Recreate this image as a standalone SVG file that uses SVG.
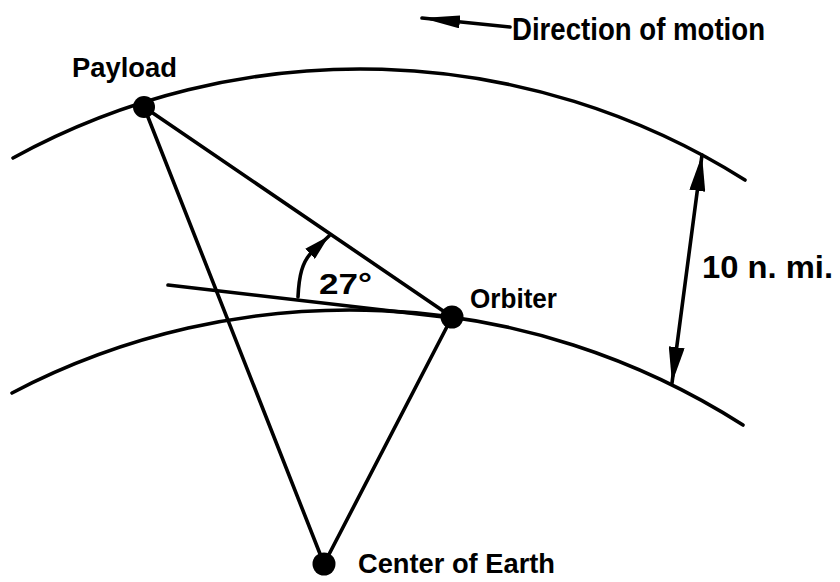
<svg xmlns="http://www.w3.org/2000/svg" width="840" height="582" viewBox="0 0 840 582">
<style>
.ln{fill:none;stroke:#000;stroke-width:3.6;stroke-linecap:round}
.dot{fill:#000}
.lbl{font-family:"Liberation Sans","DejaVu Sans",sans-serif;font-weight:bold;fill:#000}
</style>
<defs>
<marker id="headL" viewBox="0 0 36 16" markerWidth="36" markerHeight="16" refX="36" refY="8" orient="auto-start-reverse" markerUnits="userSpaceOnUse">
<path d="M0,0 L36,8 L0,16 z" fill="#000"/>
</marker>
<marker id="headS" viewBox="0 0 26 14" markerWidth="26" markerHeight="14" refX="26" refY="7" orient="auto" markerUnits="userSpaceOnUse">
<path d="M0,0 L26,7 L0,14 z" fill="#000"/>
</marker>
<marker id="headD" viewBox="0 0 38 13" markerWidth="38" markerHeight="13" refX="38" refY="6.5" orient="auto" markerUnits="userSpaceOnUse">
<path d="M0,0 L38,6.5 L0,13 z" fill="#000"/>
</marker>
</defs>
<g id="orbits">
<path id="outer-orbit" class="ln" d="M13,158 A722,722 0 0 1 745,180"/>
<path id="inner-orbit" class="ln" d="M12,393 A729,729 0 0 1 743,425"/>
</g>
<g id="connectors">
<line class="ln" x1="144" y1="107" x2="324" y2="564"/>
<line class="ln" x1="144" y1="107" x2="452" y2="317"/>
<line class="ln" x1="452" y1="317" x2="324" y2="564"/>
<line class="ln" x1="168" y1="285" x2="452" y2="318" stroke-width="4"/>
<path class="ln" d="M298,297 C299,276 302,262 312,252 L329,236" marker-end="url(#headS)"/>
<line class="ln" x1="702" y1="155" x2="672" y2="383" marker-start="url(#headL)" marker-end="url(#headL)"/>
<line class="ln" x1="510" y1="27" x2="422" y2="18" stroke-width="4" marker-end="url(#headD)"/>
</g>
<g id="payload">
<circle class="dot" cx="144" cy="107" r="11"/>
<text class="lbl" x="72" y="77" font-size="27" textLength="105" lengthAdjust="spacingAndGlyphs">Payload</text>
</g>
<g id="orbiter">
<circle class="dot" cx="452" cy="317" r="11.5"/>
<text class="lbl" x="470" y="308" font-size="28" textLength="87" lengthAdjust="spacingAndGlyphs">Orbiter</text>
</g>
<g id="center">
<circle class="dot" cx="324" cy="564" r="11.5"/>
<text class="lbl" x="358" y="573" font-size="28" textLength="197" lengthAdjust="spacingAndGlyphs">Center of Earth</text>
</g>
<g id="labels">
<text class="lbl" x="512" y="40" font-size="32" textLength="253" lengthAdjust="spacingAndGlyphs">Direction of motion</text>
<text class="lbl" x="319" y="294" font-size="30" textLength="53" lengthAdjust="spacingAndGlyphs">27°</text>
<text class="lbl" x="702" y="278" font-size="32" textLength="131" lengthAdjust="spacingAndGlyphs">10 n. mi.</text>
</g>
</svg>
